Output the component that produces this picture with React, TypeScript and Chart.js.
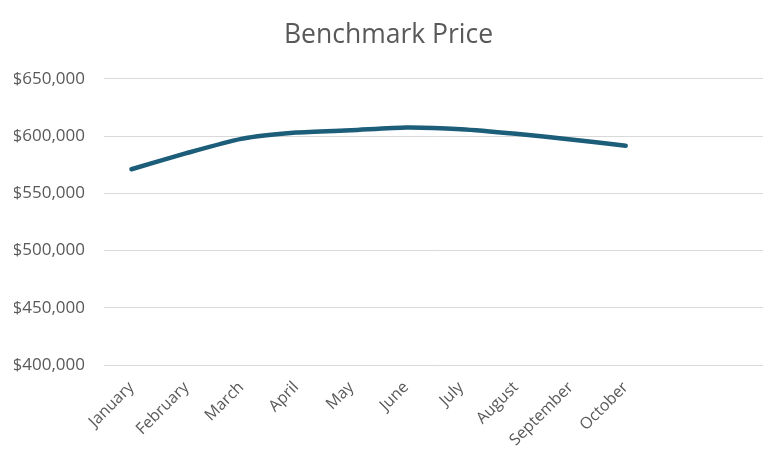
import { useEffect, useRef } from "react";
import { Chart, registerables } from "chart.js";

Chart.register(...registerables);

const categories = [
  "January",
  "February",
  "March",
  "April",
  "May",
  "June",
  "July",
  "August",
  "September",
  "October",
  "",
  "",
];

const benchmarkPrice: (number | null)[] = [
  571000, 585000, 597500, 603000, 605000, 607500, 606000, 602000, 597000, 591500, null, null,
];

const yMin = 400000;
const yMax = 650000;
const yStep = 50000;

const FONT = "'Open Sans', 'Liberation Sans', sans-serif";
const TEXT = "#595959";

export default function App() {
  const ref = useRef<HTMLCanvasElement | null>(null);

  useEffect(() => {
    if (!ref.current) return;
    const chart = new Chart(ref.current, {
      type: "line",
      data: {
        labels: categories,
        datasets: [
          {
            label: "Benchmark Price",
            data: benchmarkPrice,
            borderColor: "#1c5d7a",
            backgroundColor: "#1c5d7a",
            borderWidth: 4.5,
            borderCapStyle: "round",
            borderJoinStyle: "round",
            pointRadius: 0,
            tension: 0.2,
            fill: false,
          },
        ],
      },
      options: {
        responsive: false,
        animation: false,
        layout: { padding: { left: 14, right: 9, top: 0, bottom: 0 } },
        plugins: {
          legend: { display: false },
          tooltip: { enabled: false },
          title: {
            display: true,
            text: "Benchmark Price",
            color: TEXT,
            font: { family: FONT, size: 26.5, weight: "normal" },
            padding: { top: 20, bottom: 27 },
          },
        },
        scales: {
          x: {
            offset: true,
            grid: { display: false, offset: true },
            border: { display: false },
            ticks: {
              color: TEXT,
              font: { family: FONT, size: 16 },
              maxRotation: 45,
              minRotation: 45,
              autoSkip: false,
              padding: 5,
            },
            afterFit: (scale: any) => {
              scale.height = 92;
              scale.paddingRight = 0;
              scale.paddingLeft = 0;
            },
          },
          y: {
            min: yMin,
            max: yMax,
            grid: { color: "#d9d9d9", lineWidth: 1, drawTicks: false },
            border: { display: false },
            ticks: {
              stepSize: yStep,
              color: TEXT,
              font: { family: FONT, size: 17 },
              padding: 19,
              callback: (v: any) => "$" + Number(v).toLocaleString("en-US"),
            },
            afterFit: (scale: any) => {
              scale.width = 90;
            },
          },
        },
      },
    });
    return () => chart.destroy();
  }, []);

  return (
    <div style={{ position: "fixed", left: 0, top: 0, width: 772, height: 457, background: "#fff" }}>
      <canvas ref={ref} width={772} height={457} />
    </div>
  );
}
